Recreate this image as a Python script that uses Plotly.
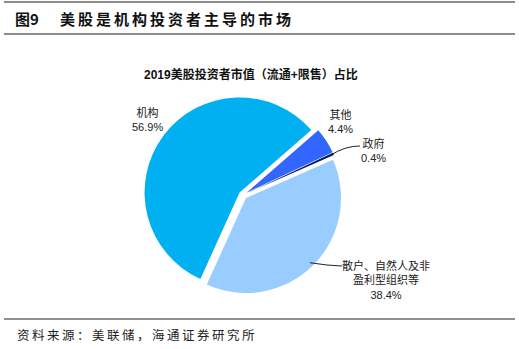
import math
import plotly.graph_objects as go

W, H = 519, 349

# Data (clockwise from the first slice)
labels = ["其他", "政府", "散户、自然人及非盈利型组织等", "机构"]
values = [4.4, 0.4, 38.4, 56.9]
colors = ["#3366FF", "#002060", "#99CCFF", "#00B0F0"]
label_texts = ["其他<br>4.4%", "政府<br>0.4%", "散户、自然人及非<br>盈利型组织等<br>38.4%", "机构<br>56.9%"]

title_num = "图9"
title_text = "美股是机构投资者主导的市场"
chart_title = "2019美股投资者市值（流通+限售）占比"
source_text = "资料来源：美联储，海通证券研究所"

# geometry (pixels)
CX, CY, R = 243, 195, 95
PULL = 0.045
ROT = 49


def px(x):
    return x / W


def py(y):
    return 1 - y / H


def spaced(s):
    return "\u2009".join(s)


full = R * (1 + PULL)
dom_x = [px(CX - full), px(CX + full)]
dom_y = [py(CY + full), py(CY - full)]

fig = go.Figure()
fig.add_trace(go.Pie(
    labels=labels, values=values, sort=False, direction="clockwise",
    rotation=ROT, pull=[PULL] * 4, textinfo="none", hoverinfo="label+percent",
    marker=dict(colors=colors, line=dict(color="white", width=0)),
    domain=dict(x=dom_x, y=dom_y), showlegend=False,
))

# slice mid-angles from data
total = sum(values)
mids = []
acc = 0
for v in values:
    mids.append(ROT + (acc + v / 2) / total * 360)
    acc += v


def edge_point(i, r_extra=0):
    a = math.radians(mids[i])
    rr = R * (1 + PULL) + r_extra
    return CX + rr * math.sin(a), CY - rr * math.cos(a)


label_pos = [(340, 122), (373, 150), (386, 280), (147, 120)]

shapes = [
    dict(type="line", xref="paper", yref="paper", x0=px(4), x1=px(515), y0=py(2), y1=py(2),
         line=dict(color="#8c8c8c", width=2)),
    dict(type="line", xref="paper", yref="paper", x0=px(4), x1=px(515), y0=py(34), y1=py(34),
         line=dict(color="#8c8c8c", width=2)),
    dict(type="line", xref="paper", yref="paper", x0=px(4), x1=px(515), y0=py(319), y1=py(319),
         line=dict(color="#222222", width=1)),
]

# leader for 政府
sx, sy = edge_point(1, -3)
ex, ey = 360, 146
path = f"M {px(sx)},{py(sy)} Q {px(345)},{py(146)} {px(ex)},{py(ey)}"
shapes.append(dict(type="path", xref="paper", yref="paper", path=path,
                   line=dict(color="#222222", width=1)))
# leader for 散户
sx2, sy2 = edge_point(2, -4)
shapes.append(dict(type="path", xref="paper", yref="paper",
                   path=f"M {px(sx2)},{py(sy2)} L {px(327)},{py(265)} L {px(342)},{py(266)}",
                   line=dict(color="#222222", width=1)))

cjk = "Noto Sans CJK SC, Liberation Sans, sans-serif"
annotations = []
for t, (x, y) in zip(label_texts, label_pos):
    annotations.append(dict(text=t, x=px(x), y=py(y), xref="paper", yref="paper",
                            showarrow=False, xanchor="center", yanchor="middle",
                            font=dict(family="Liberation Sans, Noto Sans CJK SC", size=11, color="#222"),
                            align="center"))
annotations.append(dict(text="<b>" + title_num + "</b>", x=px(13), y=py(18), xref="paper", yref="paper",
                        showarrow=False, xanchor="left", yanchor="middle",
                        font=dict(family=cjk, size=15, color="#111")))
annotations.append(dict(text="<b>" + spaced(title_text) + "</b>", x=px(58), y=py(18), xref="paper", yref="paper",
                        showarrow=False, xanchor="left", yanchor="middle",
                        font=dict(family=cjk, size=15, color="#111")))
annotations.append(dict(text="<b>" + chart_title + "</b>", x=px(251), y=py(74), xref="paper", yref="paper",
                        showarrow=False, xanchor="center", yanchor="middle",
                        font=dict(family="Liberation Sans, Noto Sans CJK SC", size=12, color="#111")))
annotations.append(dict(text=spaced(source_text), x=px(15), y=py(334), xref="paper", yref="paper",
                        showarrow=False, xanchor="left", yanchor="middle",
                        font=dict(family=cjk, size=12.5, color="#222")))

fig.update_layout(width=W, height=H, margin=dict(l=0, r=0, t=0, b=0),
                  paper_bgcolor="white", plot_bgcolor="white",
                  shapes=shapes, annotations=annotations)
fig.write_html("out.html")
